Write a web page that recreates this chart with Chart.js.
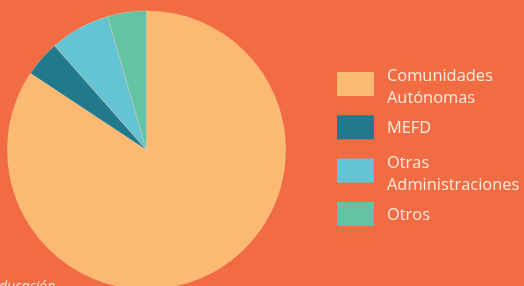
<!DOCTYPE html>
<html>
<head>
<meta charset="utf-8">
<script src="https://cdn.jsdelivr.net/npm/chart.js@4/dist/chart.umd.min.js"></script>
<style>
  html, body { margin: 0; padding: 0; background: #F26C43; overflow: hidden; }
  #wrap { position: absolute; left: 0; top: 0; width: 524px; height: 300px; }
</style>
</head>
<body>
<div id="wrap"><canvas id="grafico"></canvas></div>
<script>
// Datos del gráfico
const categorias = [['Comunidades', 'Autónomas'], ['MEFD'], ['Otras', 'Administraciones'], ['Otros']];
const valores = [84.3, 4.2, 7.0, 4.5];
const colores = ['#FBB971', '#217A8C', '#64C4D3', '#62C3A5'];
const fuente = 'ducación';

const textoColor = '#FDEBDD';

// Leyenda dibujada a mano (etiquetas en varias líneas)
const leyendaPlugin = {
    id: 'leyendaManual',
    afterDraw(chart) {
        const ctx = chart.ctx;
        ctx.save();
        ctx.font = '16.4px "Open Sans", sans-serif';
        ctx.textBaseline = 'alphabetic';
        const x0 = 337, y0 = 72, paso = 43.3;
        categorias.forEach((lineas, i) => {
            const y = y0 + i * paso;
            ctx.fillStyle = colores[i];
            ctx.fillRect(x0, y, 37, 24);
            ctx.fillStyle = textoColor;
            const base = lineas.length > 1 ? y + 9 : y + 18;
            lineas.forEach((l, j) => ctx.fillText(l, 387, base + j * 22));
        });
        // nota de fuente, cortada abajo
        ctx.font = 'italic 14px "Open Sans", sans-serif';
        ctx.fillText(fuente, -1, 291);
        ctx.restore();
    }
};

new Chart(document.getElementById('grafico'), {
    type: 'pie',
    data: {
        labels: categorias.map(c => c.join(' ')),
        datasets: [{
            data: valores,
            backgroundColor: colores,
            borderColor: 'rgba(255,235,215,0.35)',
            borderWidth: 0.8
        }]
    },
    options: {
        responsive: true,
        maintainAspectRatio: false,
        animation: false,
        layout: { padding: { left: 7, top: 10.5, right: 238, bottom: 10.5 } },
        plugins: {
            legend: { display: false },
            tooltip: { enabled: false }
        }
    },
    plugins: [leyendaPlugin]
});
</script>
</body>
</html>
